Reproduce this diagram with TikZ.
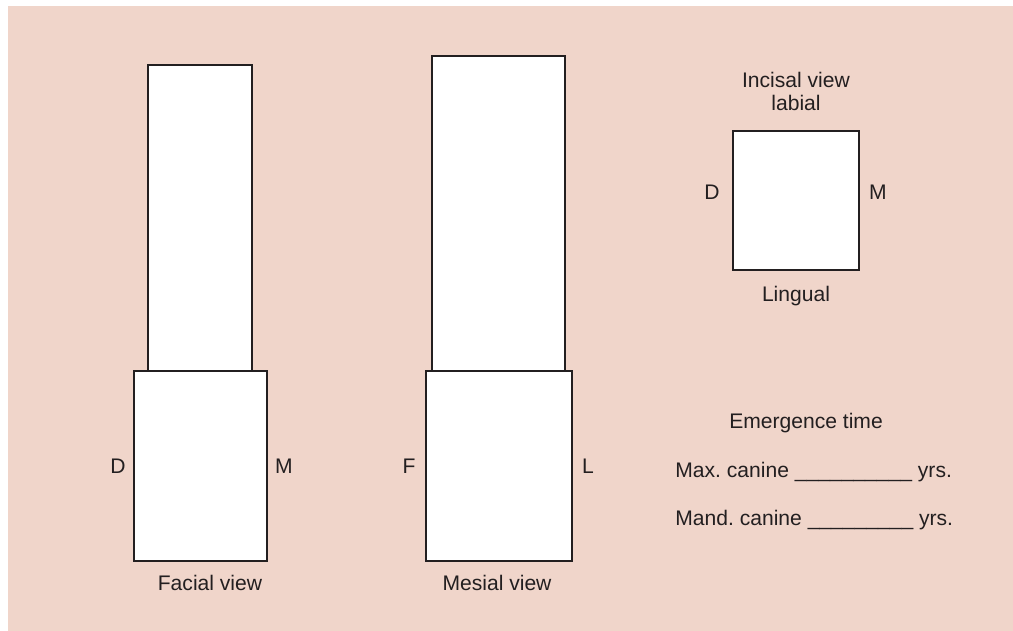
\documentclass[tikz,border=0pt]{standalone}
\usepackage{fontspec}
\setmainfont{Liberation Sans}
\usepackage{tikz}
\usetikzlibrary{positioning}
\usepackage{xcolor}
\definecolor{sheetpink}{HTML}{F0D5CA}
\definecolor{inkgray}{HTML}{231F20}
\frenchspacing
\tikzset{
  toothbox/.style={
    draw=inkgray,
    fill=white,
    line width=1.1pt,
    inner sep=0pt
  },
  sidelabel/.style={
    text=inkgray,
    inner sep=0pt,
    anchor=base,
    font=\fontsize{12}{14.4}\selectfont
  },
  formline/.style={
    text=inkgray,
    inner sep=0pt,
    anchor=base west,
    font=\fontsize{12}{14.4}\selectfont
  }
}

\begin{document}
\begin{tikzpicture}[x=0.02cm, y=-0.02cm]
\useasboundingbox (0,0) rectangle (1013,631);
\fill[white] (0,0) rectangle (1013,631);
\fill[sheetpink] (8,6) rectangle (1013,631);

% facial view
\node[toothbox, minimum width=2.08cm, minimum height=6.12cm] (facecrown) at (200,218) {};
\node[toothbox, minimum width=2.66cm, minimum height=3.80cm] (faceroot) at (200.5,466) {};
\node[sidelabel] (faceD) at (118,473.5) {D};
\node[sidelabel] (faceM) at (284,473.5) {M};
\node[sidelabel] (facecap) at (210,590.5) {Facial view};

% mesial view
\node[toothbox, minimum width=2.66cm, minimum height=6.30cm] (mescrown) at (498.5,213.5) {};
\node[toothbox, minimum width=2.92cm, minimum height=3.80cm] (mesroot) at (499,466) {};
\node[sidelabel] (mesF) at (409,473.5) {F};
\node[sidelabel] (mesL) at (588,473.5) {L};
\node[sidelabel] (mescap) at (497,590.5) {Mesial view};

% incisal view
\node[toothbox, minimum width=2.52cm, minimum height=2.78cm] (incisal) at (796,200.5) {};
\node[sidelabel] (inctitle) at (796,88) {Incisal view};
\node[sidelabel] (inclabial) at (796,110.5) {labial};
\node[sidelabel] (incD) at (712,200) {D};
\node[sidelabel] (incM) at (878,200) {M};
\node[sidelabel] (incling) at (796,301) {Lingual};

% emergence
\node[sidelabel] (emerge) at (806,428) {Emergence time};
\node[formline] (maxcan) at (675,477) {Max. canine \_\_\_\_\_\_\_\_\_\_ yrs.};
\node[formline] (mandcan) at (675,525.5) {Mand. canine \_\_\_\_\_\_\_\_\_ yrs.};
\end{tikzpicture}
\end{document}
